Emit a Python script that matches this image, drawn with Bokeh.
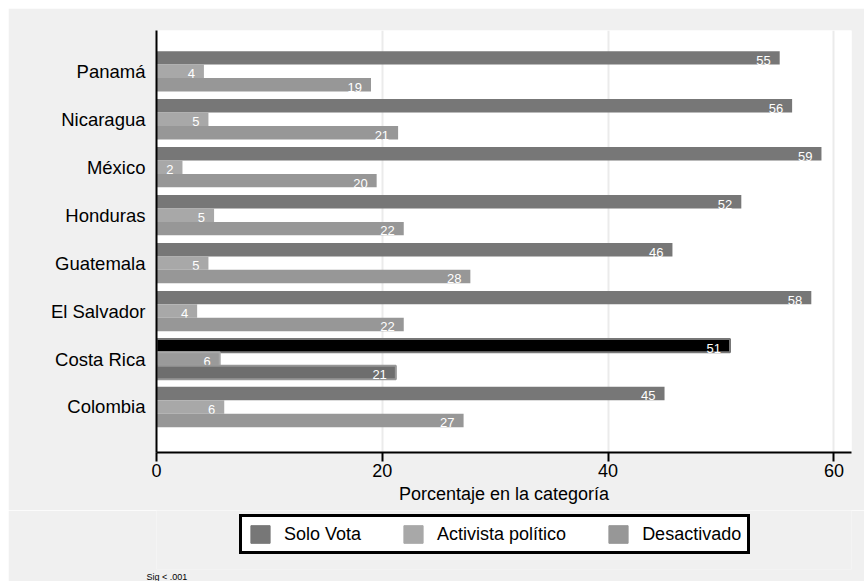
from bokeh.plotting import figure
from bokeh.layouts import column
from bokeh.models import ColumnDataSource, FixedTicker, Legend, LegendItem, Title, Range1d
from bokeh.embed import file_html
from bokeh.resources import INLINE
from bokeh.core.properties import value

# Data (bottom to top)
countries = ["Colombia", "Costa Rica", "El Salvador", "Guatemala", "Honduras", "México", "Nicaragua", "Panamá"]
solo_vota = [45.0, 50.8, 58.0, 45.7, 51.8, 58.9, 56.3, 55.2]
activista = [6.0, 5.6, 3.6, 4.6, 5.1, 2.3, 4.6, 4.2]
desactivado = [27.2, 21.2, 21.9, 27.8, 21.9, 19.5, 21.4, 19.0]
series_names = ["Solo Vota", "Activista político", "Desactivado"]
highlight = "Costa Rica"
note = "Sig < .001"

FONT = "Liberation Sans"
BG = "#f0f0f0"
BAR_H = 0.28
W = 856
H1 = 502
H2 = 71

p = figure(width=W, height=H1, output_backend="svg", toolbar_location=None,
           x_range=Range1d(0, 61.56), y_range=Range1d(-0.949, 7.851),
           min_border_left=148, min_border_right=13, min_border_top=22, min_border_bottom=58)
p.background_fill_color = "white"
p.border_fill_color = BG
p.outline_line_color = None

styles = [
    # normal fill, highlight fill, highlight line
    ("#777777", "#000000", "#777777"),
    ("#a8a8a8", "#9a9a9a", "#a8a8a8"),
    ("#979797", "#6e6e6e", "#979797"),
]
offsets = [BAR_H, 0.0, -BAR_H]
for vals, (nf, hf, hl), off in zip([solo_vota, activista, desactivado], styles, offsets):
    ys = [i + off for i in range(len(countries))]
    src = ColumnDataSource(dict(
        y=ys,
        right=vals,
        fill=[hf if c == highlight else nf for c in countries],
        line=[hl if c == highlight else nf for c in countries],
        la=[1.0 if c == highlight else 0.0 for c in countries],
        label=[str(int(round(v))) for v in vals],
        ly=[y - BAR_H / 2 + 0.09 for y in ys],
    ))
    p.hbar(y="y", left=0, right="right", height=BAR_H, fill_color="fill",
           line_color="line", line_alpha="la", line_width=2, source=src)
    p.text(x="right", y="ly", text="label", x_offset=-9, text_align="right",
           text_baseline="alphabetic", text_color="white", text_font=value(FONT),
           text_font_size="13px", source=src)

# Axes
p.xaxis.ticker = FixedTicker(ticks=[0, 20, 40, 60])
p.xaxis.axis_line_width = 2
p.xaxis.major_tick_out = 9
p.xaxis.major_tick_in = 0
p.xaxis.major_tick_line_width = 2
p.xaxis.minor_tick_line_color = None
p.xaxis.major_label_text_font = FONT
p.xaxis.major_label_text_font_size = "18px"
p.xaxis.major_label_text_color = "black"
p.xaxis.major_label_standoff = 2
p.xaxis.axis_label = "Porcentaje en la categoría"
p.xaxis.axis_label_text_font = FONT
p.xaxis.axis_label_text_font_style = "normal"
p.xaxis.axis_label_text_font_size = "18px"
p.xaxis.axis_label_text_color = "black"
p.xaxis.axis_label_standoff = 4

p.yaxis.ticker = FixedTicker(ticks=list(range(len(countries))))
p.yaxis.major_label_overrides = {i: c for i, c in enumerate(countries)}
p.yaxis.axis_line_width = 2
p.yaxis.major_tick_out = 0
p.yaxis.major_tick_in = 0
p.yaxis.minor_tick_line_color = None
p.yaxis.major_label_text_font = FONT
p.yaxis.major_label_text_font_size = "18.5px"
p.yaxis.major_label_text_color = "black"
p.yaxis.major_label_standoff = 11

p.xgrid.ticker = FixedTicker(ticks=[20, 40, 60])
p.xgrid.grid_line_color = "#ebebeb"
p.xgrid.grid_line_width = 2
p.ygrid.visible = False

# Bottom strip: legend + note (frame is aligned with the main plot's frame)
p2 = figure(width=W, height=H2, output_backend="svg", toolbar_location=None,
            x_range=Range1d(0, 1), y_range=Range1d(0, 1),
            min_border_left=148, min_border_right=13, min_border_top=0, min_border_bottom=0)
p2.background_fill_color = BG
p2.border_fill_color = BG
p2.outline_line_color = None
p2.axis.visible = False
p2.grid.visible = False

legend_renderers = []
for (nf, _, _) in styles:
    legend_renderers.append(p2.rect(x=[-10], y=[-10], width=1, height=1,
                                    fill_color=nf, line_color=nf))

legend = Legend(
    items=[LegendItem(label=n, renderers=[r]) for n, r in zip(series_names, legend_renderers)],
    orientation="horizontal", location=(83, 15),
    glyph_width=24, glyph_height=22, label_standoff=12, spacing=40, padding=6, margin=0,
    label_text_font=FONT, label_text_font_size="18px", label_text_color="black",
    border_line_color="black", border_line_width=3, border_line_alpha=1.0,
    background_fill_color="white", background_fill_alpha=1.0,
)
p2.add_layout(legend)

p2.add_layout(Title(text=note, align="left", offset=-10, standoff=0, text_font=FONT,
                    text_font_size="9px", text_font_style="normal", text_color="black"),
              "below")

layout = column(p, p2, spacing=0, margin=(8, 0, 0, 8))
open("out.html", "w").write(file_html(layout, INLINE))
